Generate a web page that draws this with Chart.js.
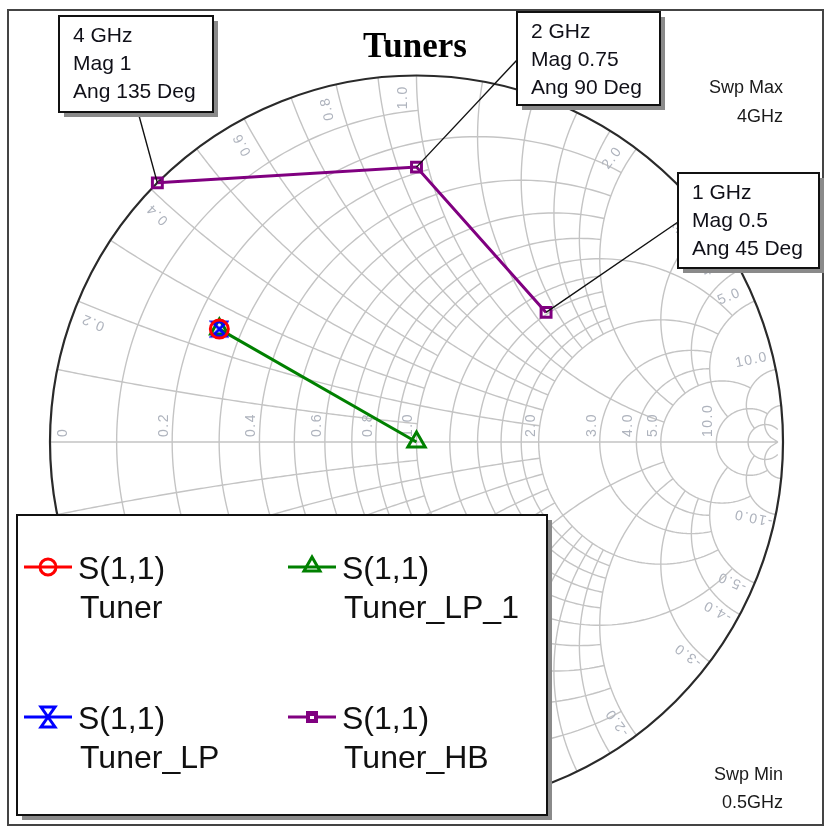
<!DOCTYPE html>
<html>
<head>
<meta charset="utf-8">
<script src="https://cdn.jsdelivr.net/npm/chart.js@4/dist/chart.umd.min.js"></script>
<style>
  html, body { margin: 0; padding: 0; background: #ffffff; }
  #wrap { position: relative; width: 825px; height: 828px; }
</style>
</head>
<body>
<div id="wrap"><canvas id="smith" width="825" height="828"></canvas></div>
<script>
// ---- chart content ----
const chartTitle = 'Tuners';
const measurement = 'S(1,1)';
const seriesNames = ['Tuner', 'Tuner_LP', 'Tuner_LP_1', 'Tuner_HB'];
const seriesColors = ['#ff0000', '#0000ff', '#008000', '#800080'];

// reflection coefficient (real / imaginary) of each trace
const tunerRe = [-0.538];
const tunerIm = [0.308];
const tunerLpRe = [-0.538];
const tunerLpIm = [0.308];
const tunerLp1Re = [-0.538, 0];
const tunerLp1Im = [0.308, 0];

// Tuner_HB trace given as magnitude / angle per frequency
const hbFreqGHz = [1, 2, 4];
const hbMag = [0.5, 0.75, 1];
const hbAngDeg = [45, 90, 135];

const sweepMaxText = ['Swp Max', '4GHz'];
const sweepMinText = ['Swp Min', '0.5GHz'];

// Smith grid: labelled resistance / reactance values
const resistanceLabels = [0, 0.2, 0.4, 0.6, 0.8, 1.0, 2.0, 3.0, 4.0, 5.0, 10.0];
const reactanceLabels = [0.2, 0.4, 0.6, 0.8, 1.0, 2.0, 3.0, 4.0, 5.0, 10.0];

// grid circles: [value, limit] -> resistance circle drawn for |x| <= limit,
// reactance arc drawn for r <= limit (same layout used for both families)
const gridLevels = [
  [0.1, 1], [0.2, 2], [0.3, 1], [0.4, 2], [0.5, 1], [0.6, 2], [0.7, 1], [0.8, 2], [0.9, 1],
  [1.0, 5], [1.2, 2], [1.4, 2], [1.6, 2], [1.8, 2], [2.0, 5],
  [3, 5], [4, 5], [5, 10], [10, 20], [20, 50]
];
const resistanceGrid = gridLevels;
const reactanceGrid = gridLevels;

// ---- helpers ----
function zip(re, im) { return re.map((v, i) => ({ x: v, y: im[i] })); }
function polar(mag, ang) {
  return mag.map((m, i) => ({ x: m * Math.cos(ang[i] * Math.PI / 180), y: m * Math.sin(ang[i] * Math.PI / 180) }));
}
function gammaOf(r, x) {
  const d = (r + 1) * (r + 1) + x * x;
  return [(r * r - 1 + x * x) / d, (2 * x) / d];
}

// hourglass marker used by Tuner_LP
function hourglassMarker(color) {
  const c = document.createElement('canvas');
  c.width = 20; c.height = 20;
  const g = c.getContext('2d');
  g.strokeStyle = color; g.lineWidth = 3; g.lineJoin = 'miter';
  g.beginPath();
  g.moveTo(3, 3); g.lineTo(17, 3); g.lineTo(3, 17); g.lineTo(17, 17); g.closePath();
  g.stroke();
  return c;
}
const blueMarker = hourglassMarker(seriesColors[1]);

const traceData = [
  zip(tunerRe, tunerIm),
  zip(tunerLpRe, tunerLpIm),
  zip(tunerLp1Re, tunerLp1Im),
  polar(hbMag, hbAngDeg)
];
const pointStyles = ['circle', blueMarker, 'triangle', 'rect'];
const pointRadii = [9, 10, 10, 7];

// ---- Smith chart grid (drawn beneath the traces) ----
const smithGrid = {
  id: 'smithGrid',
  beforeDatasetsDraw(chart) {
    const ctx = chart.ctx;
    const xs = chart.scales.x, ys = chart.scales.y;
    const px = v => xs.getPixelForValue(v);
    const py = v => ys.getPixelForValue(v);
    const cx = px(0), cy = py(0), R = px(1) - px(0);

    ctx.save();
    ctx.beginPath();
    ctx.arc(cx, cy, R, 0, Math.PI * 2);
    ctx.clip();
    ctx.strokeStyle = '#c4c4c4';
    ctx.lineWidth = 1.4;

    // constant-resistance circles
    resistanceGrid.forEach(([r, lim]) => {
      const c = r / (r + 1), rad = 1 / (r + 1);
      const g = gammaOf(r, lim);
      const a = Math.atan2(g[1], g[0] - c);
      const n = 160;
      ctx.beginPath();
      for (let i = 0; i <= n; i++) {
        const t = a + (2 * Math.PI - 2 * a) * i / n;
        const X = px(c + rad * Math.cos(t)), Y = py(rad * Math.sin(t));
        if (i === 0) ctx.moveTo(X, Y); else ctx.lineTo(X, Y);
      }
      ctx.stroke();
    });

    // constant-reactance arcs (both signs)
    reactanceGrid.forEach(([xv, lim]) => {
      [xv, -xv].forEach(x => {
        const ccy = 1 / x, rad = 1 / Math.abs(x);
        const g0 = gammaOf(0, x), g1 = gammaOf(lim, x);
        const a0 = Math.atan2(g0[1] - ccy, g0[0] - 1);
        const a1 = Math.atan2(g1[1] - ccy, g1[0] - 1);
        let d = a1 - a0;
        while (d > Math.PI) d -= 2 * Math.PI;
        while (d < -Math.PI) d += 2 * Math.PI;
        const n = 120;
        ctx.beginPath();
        for (let i = 0; i <= n; i++) {
          const t = a0 + d * i / n;
          const X = px(1 + rad * Math.cos(t)), Y = py(ccy + rad * Math.sin(t));
          if (i === 0) ctx.moveTo(X, Y); else ctx.lineTo(X, Y);
        }
        ctx.stroke();
      });
    });

    // real axis with arrow
    ctx.beginPath();
    ctx.moveTo(px(-1), cy);
    ctx.lineTo(px(1) - 5, cy);
    ctx.moveTo(px(1) - 5, cy);
    ctx.lineTo(px(1) - 13, cy - 5);
    ctx.moveTo(px(1) - 5, cy);
    ctx.lineTo(px(1) - 13, cy + 5);
    ctx.stroke();
    ctx.restore();

    // outer circle
    ctx.save();
    ctx.strokeStyle = '#2a2a2a';
    ctx.lineWidth = 2.2;
    ctx.beginPath();
    ctx.arc(cx, cy, R, 0, Math.PI * 2);
    ctx.stroke();

    // grid labels
    ctx.fillStyle = '#aeb3bd';
    ctx.font = '14px "Liberation Sans", Arial, sans-serif';
    ctx.letterSpacing = '1.5px';
    ctx.textBaseline = 'middle';

    resistanceLabels.forEach(r => {
      const gx = (r - 1) / (r + 1);
      const X = r === 0 ? px(gx) + 13 : px(gx) - 8;
      ctx.save();
      ctx.translate(X, cy - 5);
      ctx.rotate(-Math.PI / 2);
      ctx.textAlign = 'left';
      ctx.fillText(r === 0 ? '0' : r.toFixed(1), 0, 0);
      ctx.restore();
    });

    const labelR = 345;
    reactanceLabels.forEach(x => {
      const th = Math.PI - 2 * Math.atan(x);
      // upper half: reads outward
      let a = th + 0.04;
      ctx.save();
      ctx.translate(cx + labelR * Math.cos(a), cy - labelR * Math.sin(a));
      ctx.rotate(-th);
      ctx.textAlign = 'center';
      ctx.fillText(x.toFixed(1), 0, 0);
      ctx.restore();
      // lower half: reads inward
      a = -th - 0.021;
      ctx.save();
      ctx.translate(cx + labelR * Math.cos(a), cy - labelR * Math.sin(a));
      ctx.rotate(th + Math.PI);
      ctx.textAlign = 'center';
      ctx.fillText('-' + x.toFixed(1), 0, 0);
      ctx.restore();
    });
    ctx.restore();
  }
};

// ---- frame, title, markers, sweep text and legend ----
function drawBox(ctx, x, y, w, h) {
  ctx.fillStyle = '#8a8a8a';
  ctx.fillRect(x + 5, y + 5, w, h);
  ctx.fillStyle = '#ffffff';
  ctx.fillRect(x, y, w, h);
  ctx.strokeStyle = '#111111';
  ctx.lineWidth = 2;
  ctx.strokeRect(x, y, w, h);
}

function drawMarkerGlyph(ctx, i, x, y, color) {
  ctx.save();
  ctx.strokeStyle = color;
  ctx.fillStyle = color;
  ctx.lineWidth = 3;
  ctx.beginPath();
  ctx.moveTo(x - 24, y); ctx.lineTo(x + 24, y);
  ctx.stroke();
  ctx.beginPath();
  if (i === 0) {
    ctx.arc(x, y, 8, 0, Math.PI * 2);
    ctx.stroke();
  } else if (i === 1) {
    ctx.moveTo(x - 7, y - 10); ctx.lineTo(x + 7, y - 10); ctx.lineTo(x - 7, y + 10); ctx.lineTo(x + 7, y + 10); ctx.closePath();
    ctx.stroke();
  } else if (i === 2) {
    ctx.moveTo(x, y - 10); ctx.lineTo(x + 8, y + 4); ctx.lineTo(x - 8, y + 4); ctx.closePath();
    ctx.stroke();
  } else {
    ctx.fillRect(x - 6, y - 6, 12, 12);
    ctx.fillStyle = '#ffffff';
    ctx.fillRect(x - 2, y - 1, 4, 3);
  }
  ctx.restore();
}

const overlay = {
  id: 'overlay',
  afterDraw(chart) {
    const ctx = chart.ctx;
    const xs = chart.scales.x, ys = chart.scales.y;
    ctx.save();

    // frame
    ctx.strokeStyle = '#444444';
    ctx.lineWidth = 2;
    ctx.strokeRect(8, 10, 815, 815);

    // title
    ctx.fillStyle = '#000000';
    ctx.font = 'bold 35px "Liberation Serif", "Times New Roman", serif';
    ctx.textAlign = 'center';
    ctx.textBaseline = 'alphabetic';
    ctx.fillText(chartTitle, 415, 57);

    // sweep limits
    ctx.font = '18px "Liberation Sans", Arial, sans-serif';
    ctx.textAlign = 'right';
    ctx.fillStyle = '#1a1a1a';
    ctx.fillText(sweepMaxText[0], 783, 93);
    ctx.fillText(sweepMaxText[1], 783, 122);
    ctx.fillText(sweepMinText[0], 783, 780);
    ctx.fillText(sweepMinText[1], 783, 808);

    // frequency marker boxes for Tuner_HB
    const boxes = [
      { rect: [678, 173, 141, 95], anchor: [678, 222] },
      { rect: [517, 12, 143, 93], anchor: [517, 60] },
      { rect: [59, 16, 154, 96], anchor: [138, 112] }
    ];
    const hb = traceData[3];
    hbFreqGHz.forEach((f, i) => {
      const b = boxes[i];
      const mx = xs.getPixelForValue(hb[i].x), my = ys.getPixelForValue(hb[i].y);
      ctx.strokeStyle = '#111111';
      ctx.lineWidth = 1.4;
      ctx.beginPath();
      ctx.moveTo(mx, my);
      ctx.lineTo(b.anchor[0], b.anchor[1]);
      ctx.stroke();
      drawBox(ctx, ...b.rect);
      ctx.fillStyle = '#101018';
      ctx.font = '21px "Liberation Sans", Arial, sans-serif';
      ctx.textAlign = 'left';
      const tx = b.rect[0] + 14, ty = b.rect[1];
      ctx.fillText(f + ' GHz', tx, ty + 26);
      ctx.fillText('Mag ' + hbMag[i], tx, ty + 54);
      ctx.fillText('Ang ' + hbAngDeg[i] + ' Deg', tx, ty + 82);
    });

    // legend
    drawBox(ctx, 17, 515, 530, 300);
    const cols = [48, 312];
    const rows = [567, 717];
    chart.data.datasets.forEach((ds, i) => {
      const col = Math.floor(i / 2), row = i % 2;
      const x = cols[col], y = rows[row];
      drawMarkerGlyph(ctx, i, x, y, ds.borderColor);
      ctx.fillStyle = '#101010';
      ctx.font = '32px "Liberation Sans", Arial, sans-serif';
      ctx.textAlign = 'left';
      ctx.textBaseline = 'alphabetic';
      ctx.fillText(measurement, x + 30, y + 12);
      ctx.fillText(ds.label, x + 32, y + 51);
    });

    ctx.restore();
  }
};

new Chart(document.getElementById('smith'), {
  type: 'scatter',
  data: {
    datasets: seriesNames.map((name, i) => ({
      label: name,
      data: traceData[i],
      showLine: true,
      borderColor: seriesColors[i],
      backgroundColor: 'rgba(0,0,0,0)',
      borderWidth: 3,
      pointStyle: pointStyles[i],
      pointRadius: pointRadii[i],
      pointBorderWidth: 3,
      pointBorderColor: seriesColors[i],
      pointBackgroundColor: 'rgba(0,0,0,0)'
    }))
  },
  options: {
    responsive: false,
    animation: false,
    devicePixelRatio: 1,
    layout: { padding: { left: 50, right: 42, top: 75.5, bottom: 19.5 } },
    scales: {
      x: { type: 'linear', min: -1, max: 1, display: false },
      y: { type: 'linear', min: -1, max: 1, display: false }
    },
    plugins: {
      legend: { display: false },
      title: { display: false },
      tooltip: { enabled: false }
    }
  },
  plugins: [smithGrid, overlay]
});
</script>
</body>
</html>
